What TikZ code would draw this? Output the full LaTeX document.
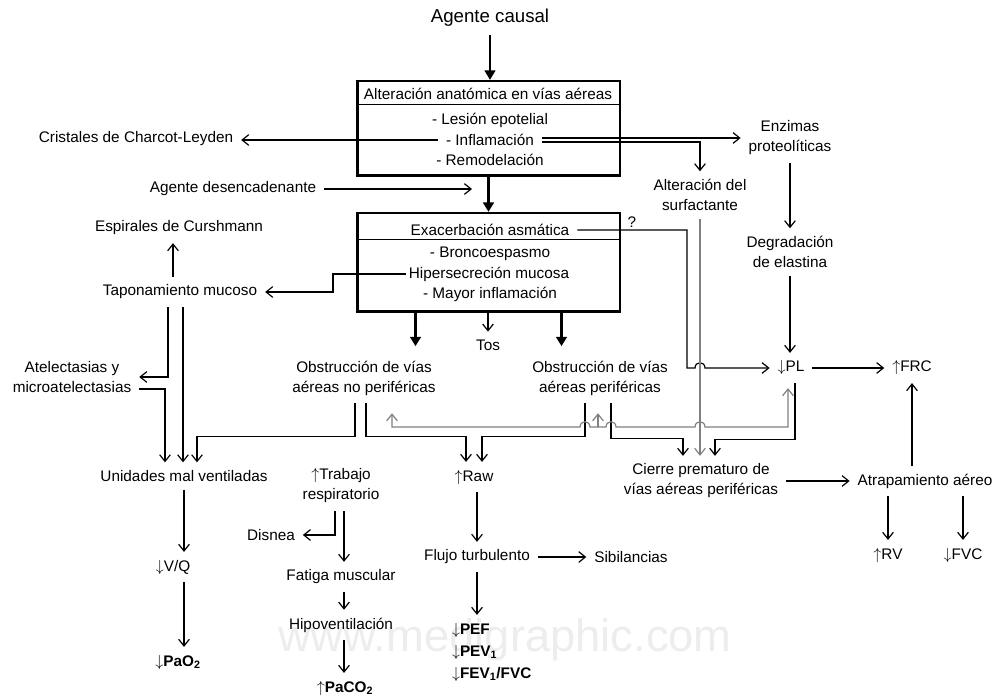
\documentclass[tikz,border=0pt]{standalone}
\usepackage{fontspec}
\setmainfont{Liberation Sans}
\usetikzlibrary{arrows.meta,calc}

\tikzset{every picture/.style={line width=0.75pt}}
\tikzset{
  txt/.style={font=\fontsize{11.5}{15}\selectfont, inner sep=2pt, outer sep=4pt, align=center},
  neg/.style={txt, font=\fontsize{11.5}{15}\selectfont\bfseries},
  caja/.style={draw, line width=2pt, inner sep=0pt},
  flecha/.style={line width=0.9pt, -{Straight Barb[length=5pt,width=8pt]}},
  gruesa/.style={line width=2.4pt, -{Triangle[length=7pt,width=8pt]}},
  gris/.style={draw=black!50},
}

\begin{document}
\begin{tikzpicture}[x=0.75pt,y=0.75pt,yscale=-1,xscale=1]
	\useasboundingbox (0,0) rectangle (996,698);

	% Watermark
	\node[font=\fontsize{34}{34}\selectfont, text=black!7] (marca) at (505,640) {www.medigraphic.com};

	%Shape: Box alteracion
	\node[caja, minimum width=197pt, minimum height=71pt] (alt) at (488.5,128.5) {};
	\draw ($(alt.north west)+(0,25)$) -- ($(alt.north east)+(0,25)$);
	%Shape: Box exacerbacion
	\node[caja, minimum width=197pt, minimum height=74pt] (exa) at (488.5,262.5) {};
	\draw ($(exa.north west)+(0,28)$) -- ($(exa.north east)+(0,28)$);

	% Text Node
	\node[txt, font=\fontsize{14}{16}\selectfont] (causal) at (490,18) {Agente causal};
	\node[txt] (alttit) at (488,94) {Alteración anatómica en vías aéreas};
	\node[txt] (lesion) at (490,120) {- Lesión epotelial};
	\node[txt] (inflam) at (490,140) {- Inflamación};
	\node[txt] (remod) at (490,160) {- Remodelación};
	\node[txt] (charcot) at (136,139) {Cristales de Charcot-Leyden};
	\node[txt] (enzimas) at (790,138) {Enzimas\\proteolíticas};
	\node[txt] (surfact) at (700,195) {Alteración del\\surfactante};
	\node[txt] (desenc) at (233,189) {Agente desencadenante};
	\coordinate (desfin) at (472,189);
	\node[txt] (exatit) at (490,230) {Exacerbación asmática};
	\node[txt] (bronco) at (490,254) {- Broncoespasmo};
	\node[txt] (hiper) at (489,274) {Hipersecreción mucosa};
	\node[txt] (mayor) at (490,294) {- Mayor inflamación};
	\node[txt] (interrog) at (632,222) {?};
	\node[txt] (espir) at (179,228) {Espirales de Curshmann};
	\node[txt] (tapon) at (180,292) {Taponamiento mucoso};
	\node[txt] (degrad) at (790,252) {Degradación\\de elastina};
	\node[txt] (tos) at (488,345) {Tos};
	\node[txt] (nonper) at (364,378) {Obstrucción de vías\\aéreas no periféricas};
	\node[txt] (per) at (600,378) {Obstrucción de vías\\aéreas periféricas};
	\node[txt] (pl) at (791,368) {$\downarrow$PL};
	\node[txt] (frc) at (912,368) {$\uparrow$FRC};
	\node[txt] (atel) at (72,377) {Atelectasias y\\microatelectasias};
	\node[txt] (unid) at (184,476) {Unidades mal ventiladas};
	\node[txt] (trab) at (341,486) {$\uparrow$Trabajo\\respiratorio};
	\node[txt] (raw) at (474,477) {$\uparrow$Raw};
	\node[txt] (cierre) at (701,481) {Cierre prematuro de\\vías aéreas periféricas};
	\node[txt] (atrap) at (925,481) {Atrapamiento aéreo};
	\node[txt] (disnea) at (271,535) {Disnea};
	\node[txt] (vq) at (173,567) {$\downarrow$V/Q};
	\node[txt] (flujo) at (477,557) {Flujo turbulento};
	\node[txt] (sibil) at (631,557) {Sibilancias};
	\node[txt] (rv) at (888,555) {$\uparrow$RV};
	\node[txt] (fvc) at (963,555) {$\downarrow$FVC};
	\node[txt] (fatiga) at (341,577) {Fatiga muscular};
	\node[txt] (hipo) at (341,625) {Hipoventilación};
	\node[neg, anchor=west] (pef) at (444,630) {$\downarrow$PEF};
	\node[neg, anchor=west] (pev) at (444,652) {$\downarrow$PEV\textsubscript{1}};
	\node[neg, anchor=west] (fev) at (444,674) {$\downarrow$FEV\textsubscript{1}/FVC};
	\node[neg] (pao2) at (178,662) {$\downarrow$PaO\textsubscript{2}};
	\node[neg] (paco2) at (345,688) {$\uparrow$PaCO\textsubscript{2}};

	%Straight Lines top
	\draw[line width=1.3pt, -{Triangle[length=7pt,width=8pt]}] (causal.south) -- (causal.south |- alt.north);
	\draw[gruesa] (alt.south) -- (exa.north);
	\draw[flecha] (desenc.east) -- (desfin);
	\draw[flecha] (inflam.west) -- (inflam.west -| charcot.east);
	\coordinate (inA) at ($(inflam.east)+(0,-2)$);
	\coordinate (inB) at ($(inflam.east)+(0,2)$);
	\draw[flecha] (inA) -- (inA -| enzimas.west);
	\draw[flecha] (inB) -| (surfact.north);
	\draw[flecha] (enzimas.south) -- (degrad.north);
	\draw[flecha] (degrad.south) -- (degrad.south |- pl.north);
	\draw[flecha] (pl.east) -- (frc.west);

	%Straight Lines exacerbacion
	\draw[flecha] (exatit.east) -| (687,368) -- (695,368) .. controls (695,361) and (705,361) .. (705,368) -- (pl.west);
	\draw[gruesa] ($(exa.south)+(-73,0)$) -- ++(0,33);
	\draw[gruesa] ($(exa.south)+(73,0)$) -- ++(0,33);
	\draw[flecha] (exa.south -| tos.north) -- (tos.north);
	\coordinate (codo) at (333,283);
	\draw[flecha] ($(hiper.west)+(5,0)$) -| (codo) |- (tapon.east);

	%Straight Lines left
	\draw[flecha] ($(tapon.north)+(-7,0)$) -- ($(espir.south)+(-6,0)$);
	\draw[flecha] ($(tapon.south)+(-12,0)$) |- (atel.east);
	\draw[flecha] ($(tapon.south)+(3,0)$) -- ($(unid.north)+(-1,0)$);
	\draw[flecha] ($(atel.east)+(0,12)$) -| ($(unid.north)+(-19,0)$);
	\draw[flecha] ($(nonper.south)+(-9,0)$) -- ++(0,33) -| ($(unid.north)+(13,0)$);
	\draw[flecha] ($(nonper.south)+(2,0)$) -- ++(0,33) -| ($(raw.north)+(-8,0)$);
	\draw[flecha] ($(per.south)+(-15,0)$) -- ++(0,33) -| ($(raw.north)+(8,0)$);
	\draw[flecha] ($(per.south)+(11,0)$) -- ++(0,35) -| ($(cierre.north)+(-18,0)$);
	\draw[flecha] ($(pl.south)+(4,0)$) -- ++(0,56) -| ($(cierre.north)+(14,0)$);
	\draw[gris, flecha] (surfact.south) -- (surfact.south |- cierre.north);

	%Gray loop
	\draw[gris, line width=0.9pt, {Straight Barb[length=5pt,width=8pt]}-{Straight Barb[length=5pt,width=8pt]}] ($(nonper.south)+(28,10)$) -- (392,427) -- (580,427) .. controls (580,420) and (590,420) .. (590,427) -- (606,427) .. controls (606,420) and (616,420) .. (616,427) -- (695,427) .. controls (695,420) and (705,420) .. (705,427) -- (788,427) -- ($(pl.south)+(-3,5)$);
	\draw[gris, flecha] (598,427) -- ($(per.south)+(-2,10)$);

	%Straight Lines bottom
	\draw[flecha] (unid.south) -- (unid.south |- vq.north);
	\draw[flecha] (vq.south -| unid.south) -- (pao2.north -| unid.south);
	\draw[flecha] ($(trab.south)+(-6,0)$) |- (disnea.east);
	\draw[flecha] ($(trab.south)+(3,0)$) -- ($(fatiga.north)+(3,0)$);
	\draw[flecha] ($(fatiga.south)+(3,0)$) -- ($(hipo.north)+(3,0)$);
	\draw[flecha] ($(hipo.south)+(3,0)$) -- ($(paco2.north)+(-1,0)$);
	\draw[flecha] (flujo.north |- raw.south) -- (flujo.north);
	\draw[flecha] (flujo.east) -- (sibil.west);
	\draw[flecha] (flujo.south) -- (flujo.south |- pef.north);
	\draw[flecha] (cierre.east) -- (atrap.west);
	\draw[flecha] (atrap.north -| frc.south) -- (frc.south);
	\draw[flecha] (atrap.south -| rv.north) -- (rv.north);
	\draw[flecha] (atrap.south -| fvc.north) -- (fvc.north);

\end{tikzpicture}
\end{document}
